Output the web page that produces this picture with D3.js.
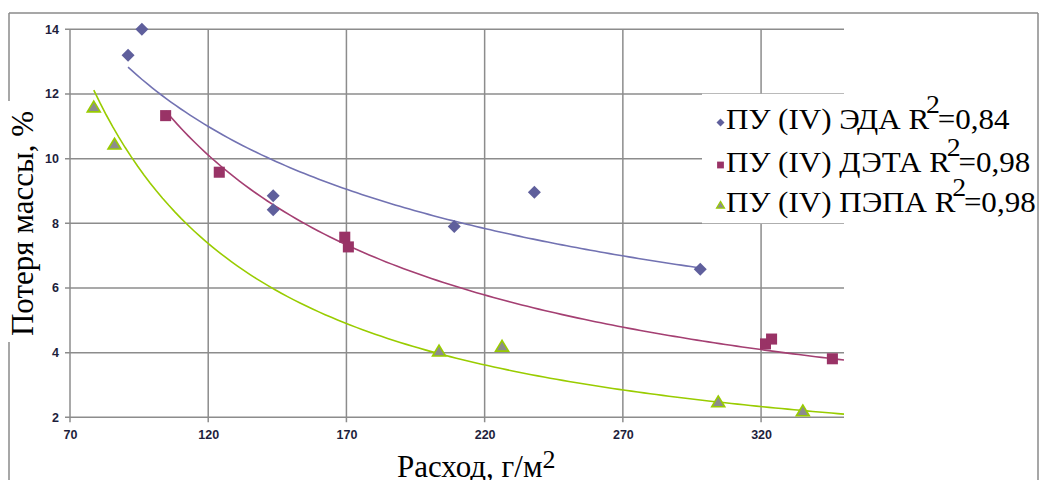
<!DOCTYPE html>
<html><head><meta charset="utf-8">
<script src="https://cdn.jsdelivr.net/npm/d3@7"></script>
<style>html,body{margin:0;padding:0;background:#fff;}svg{display:block;}
.serif{font-family:"Liberation Serif","Times New Roman",serif;}
.tick text{font-family:"Liberation Sans",Arial,sans-serif;}
</style>
</head><body>
<svg id="chart" width="1043" height="480"></svg>
<script>
// ---- data ----
const xTicks = [70, 120, 170, 220, 270, 320];
const yTicks = [2, 4, 6, 8, 10, 12, 14];
const seriesNames = ["ПУ (IV) ЭДА R", "ПУ (IV) ДЭТА R", "ПУ (IV) ПЭПА R"];
const r2Labels = ["=0,84", "=0,98", "=0,98"];
const edaX = [91, 96, 143.5, 143.5, 209, 238, 298];
const edaY = [13.2, 14.0, 8.85, 8.42, 7.9, 8.96, 6.58];
const detaX = [104.6, 124, 169.4, 170.7, 321.6, 323.8, 345.8];
const detaY = [11.33, 9.58, 7.57, 7.27, 4.27, 4.42, 3.81];
const pepaX = [78.6, 86.1, 203.5, 226.3, 304.5, 335.1];
const pepaY = [11.6, 10.45, 4.05, 4.2, 2.48, 2.2];
// power trendlines y = y0 * (x / x0)^k
const trendX0 = [91, 120, 78.6];
const trendY0 = [12.83, 10.11, 12.12];
const trendK = [-0.558, -0.9216, -1.174];
const trendStart = [91, 104.6, 78.6];
const trendEnd = [298, 350, 350];
const yTitle = "Потеря массы, %";
const xTitle = "Расход, г/м";

// ---- styles ----
const colors = [
  {fill: "#5f5f9c", stroke: "none", line: "#7272b2"},
  {fill: "#993366", stroke: "none", line: "#a43f72"},
  {fill: "#8c8c8c", stroke: "#99cc00", line: "#99cc00"}
];
const shapes = ["diamond", "square", "triangle"];

const svg = d3.select("#chart");
const x = d3.scaleLinear().domain([70, 350]).range([70, 844]);
const y = d3.scaleLinear().domain([2, 14]).range([417.3, 29.3]);

function shapePath(type, s) {
  const p = d3.path();
  if (type === "diamond") {
    p.moveTo(0, -s); p.lineTo(s, 0); p.lineTo(0, s); p.lineTo(-s, 0); p.closePath();
  } else if (type === "square") {
    const h = s * 0.85;
    p.rect(-h, -h, 2 * h, 2 * h);
  } else {
    const h = s * 0.9;
    p.moveTo(0, -h); p.lineTo(s, h * 0.85); p.lineTo(-s, h * 0.85); p.closePath();
  }
  return p.toString();
}

// ---- outer frame ----
const frame = svg.append("g").attr("stroke", "#8a8a8a").attr("stroke-width", 1.5).attr("fill", "none");
frame.append("line").attr("x1", 9).attr("x2", 1038).attr("y1", 13).attr("y2", 13);
frame.append("line").attr("x1", 9).attr("x2", 9).attr("y1", 13).attr("y2", 480);
frame.append("line").attr("x1", 1038).attr("x2", 1038).attr("y1", 13).attr("y2", 480);

// ---- grid ----
const grid = svg.append("g").attr("stroke", "#8c8c8c").attr("stroke-width", 1.5);
grid.selectAll(".gy").data(yTicks).join("line")
  .attr("x1", x(70) - 5).attr("x2", x(350))
  .attr("y1", d => y(d)).attr("y2", d => y(d));
grid.selectAll(".gx").data(xTicks).join("line")
  .attr("x1", d => x(d)).attr("x2", d => x(d))
  .attr("y1", y(14)).attr("y2", y(2) + 5);

// ---- axes labels via d3 axes ----
const yAxis = svg.append("g").attr("transform", `translate(${x(70)},0)`)
  .call(d3.axisLeft(y).tickValues(yTicks).tickSize(5).tickPadding(6));
const xAxis = svg.append("g").attr("transform", `translate(0,${y(2)})`)
  .call(d3.axisBottom(x).tickValues(xTicks).tickSize(5).tickPadding(8));
[yAxis, xAxis].forEach(a => {
  a.attr("font-family", null);
  a.select(".domain").remove();
  a.selectAll(".tick line").remove();
  a.selectAll("text").attr("font-size", 12.5)
    .attr("font-weight", "bold").attr("fill", "#1e1e3c");
});

// ---- trendlines ----
const series = [
  {xs: edaX, ys: edaY}, {xs: detaX, ys: detaY}, {xs: pepaX, ys: pepaY}
];
const line = d3.line().x(d => x(d[0])).y(d => y(d[1]));
series.forEach((s, i) => {
  const x0 = trendStart[i], x1 = trendEnd[i];
  const pts = d3.range(0, 121).map(k => {
    const xv = x0 + (x1 - x0) * k / 120;
    return [xv, trendY0[i] * Math.pow(xv / trendX0[i], trendK[i])];
  });
  svg.append("path").datum(pts).attr("d", line)
    .attr("fill", "none").attr("stroke", colors[i].line).attr("stroke-width", 1.6);
});
// ---- markers ----
series.forEach((s, i) => {
  svg.append("g").selectAll("path").data(s.xs.map((xv, k) => [xv, s.ys[k]])).join("path")
    .attr("transform", d => `translate(${x(d[0])},${y(d[1])})`)
    .attr("d", shapePath(shapes[i], 6.5))
    .attr("fill", colors[i].fill)
    .attr("stroke", colors[i].stroke).attr("stroke-width", 1.6);
});

// ---- legend ----
svg.append("rect").attr("x", 702).attr("y", 93.8).attr("width", 334).attr("height", 129.5).attr("fill", "#fff");
const legY = [129, 171.5, 211.5];
seriesNames.forEach((name, i) => {
  svg.append("path")
    .attr("transform", `translate(720.5,${legY[i] - 6.5})`)
    .attr("d", shapePath(shapes[i], 4))
    .attr("fill", colors[i].fill).attr("stroke", colors[i].stroke).attr("stroke-width", 1.2);
  const t = svg.append("text").attr("class", "serif")
    .attr("transform", `translate(726,${legY[i]}) scale(1.07,1)`)
    .attr("font-size", 29).attr("fill", "#000");
  t.append("tspan").text(name);
  t.append("tspan").attr("dx", -3).attr("dy", -16).attr("font-size", 26).text("2");
  t.append("tspan").attr("dx", -2).attr("dy", 16).text(r2Labels[i]);
});

// ---- axis titles ----
svg.append("rect").attr("x", 4).attr("y", 101).attr("width", 34).attr("height", 241).attr("fill", "#fff");
svg.append("text").attr("class", "serif").attr("transform", "translate(33,223.5) rotate(-90)")
  .attr("text-anchor", "middle").attr("font-size", 31)
  .attr("fill", "#000").text(yTitle);
const xt = svg.append("text").attr("class", "serif").attr("x", 397).attr("y", 477)
  .attr("font-size", 31).attr("fill", "#000");
xt.append("tspan").text(xTitle);
xt.append("tspan").attr("dy", -9).attr("font-size", 26).text("2");
</script>
</body></html>
